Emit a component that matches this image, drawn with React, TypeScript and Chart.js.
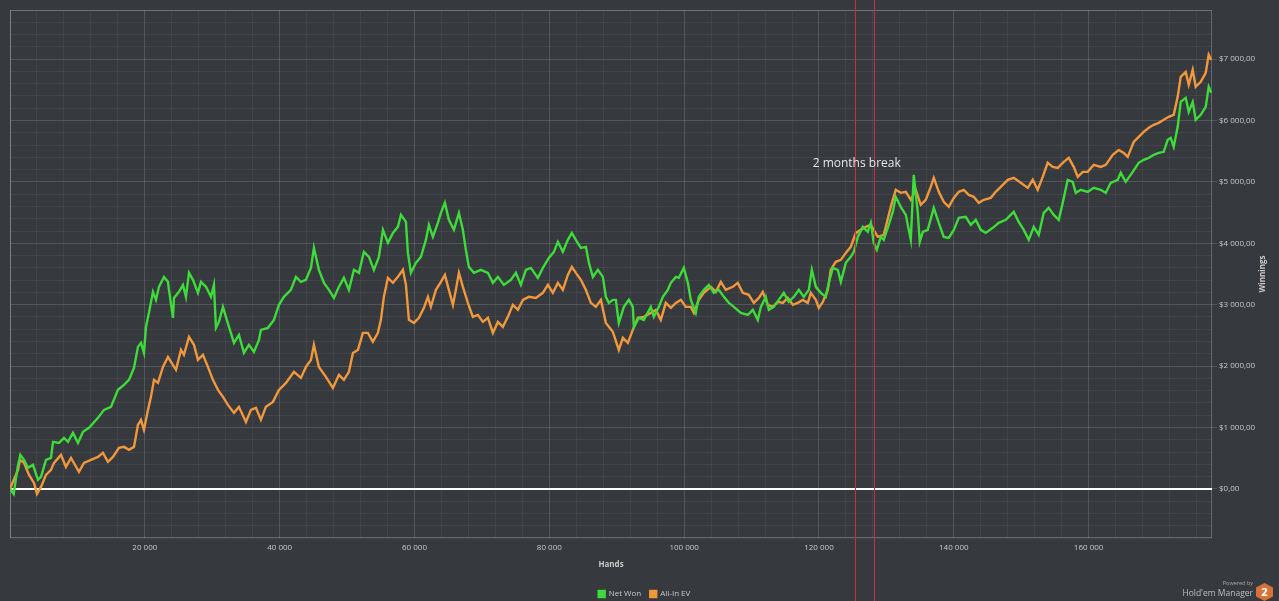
import { useEffect, useRef } from 'react';
import { Chart, registerables } from 'chart.js';

Chart.register(...registerables);

// hands played (x) and cumulative winnings in $ (y)
const netWonHands = [0, 550, 1140, 1530, 2080, 2670, 3410, 4150, 4600, 5340, 6080, 6380, 7270, 8010, 8600, 9340, 10080, 10830, 11720, 13050, 13940, 14980, 16010, 16910, 17650, 18390, 18980, 19430, 19870, 20170, 20610, 21210, 21650, 22100, 22840, 23430, 23580, 24170, 24320, 25060, 25660, 26100, 26550, 27140, 27880, 28330, 29070, 29810, 30250, 30550, 30990, 31590, 32030, 32480, 33220, 33960, 34700, 35440, 36190, 36930, 37220, 38260, 39150, 39890, 40630, 41670, 42410, 43150, 43900, 44640, 45080, 45820, 46570, 47310, 48050, 48790, 49530, 50270, 51020, 51760, 52500, 53240, 53980, 54720, 55320, 56060, 56800, 57540, 57990, 58730, 59020, 59470, 60210, 60950, 61690, 62140, 62730, 63470, 63920, 64510, 65100, 65850, 66590, 67180, 67620, 68070, 68810, 69850, 70890, 71630, 72370, 73260, 74300, 75040, 75780, 76520, 77260, 78300, 79040, 79930, 80680, 81270, 82010, 82750, 83340, 83940, 84680, 85420, 85870, 86460, 87200, 87940, 88390, 88830, 89420, 89870, 90310, 91060, 91800, 92390, 92540, 93280, 94020, 95060, 95500, 96250, 96840, 97580, 98030, 98770, 99210, 99950, 100550, 100990, 101730, 102180, 102920, 103660, 104400, 105150, 105890, 106630, 107370, 108410, 109450, 110190, 110930, 111380, 112110, 112560, 113300, 114040, 114780, 115530, 116270, 117010, 117750, 118490, 118940, 119530, 120270, 121010, 121460, 122050, 122790, 123240, 123980, 124720, 125170, 125760, 126500, 127240, 127690, 128130, 128580, 129170, 129610, 130210, 130950, 131390, 132130, 132880, 133620, 134060, 134660, 134950, 135400, 136140, 137030, 137770, 138510, 139250, 140000, 140740, 141770, 142520, 143260, 144000, 144740, 145780, 146670, 147710, 148890, 149630, 150380, 151120, 151860, 152600, 153340, 154080, 154830, 155570, 156160, 156900, 157640, 158090, 158830, 159870, 160760, 161790, 162540, 163280, 164320, 164760, 165500, 166540, 167430, 168170, 168920, 169660, 170400, 171140, 171730, 172180, 172620, 173210, 173660, 174400, 174850, 175440, 175880, 176630, 177370, 177810, 178200];
const netWon = [0, -81, 358, 554, 472, 342, 391, 147, 195, 472, 505, 766, 749, 831, 766, 912, 749, 929, 994, 1157, 1287, 1336, 1613, 1694, 1776, 1971, 2313, 2378, 2215, 2639, 2867, 3209, 3079, 3291, 3453, 3372, 3242, 2786, 3111, 3209, 3323, 3128, 3519, 3405, 3193, 3372, 3291, 3128, 3323, 2623, 2720, 2965, 2802, 2639, 2378, 2509, 2215, 2346, 2232, 2427, 2590, 2623, 2753, 2997, 3128, 3242, 3453, 3372, 3405, 3600, 3926, 3568, 3356, 3242, 3111, 3291, 3437, 3242, 3568, 3519, 3861, 3779, 3568, 3779, 4219, 4007, 4170, 4268, 4463, 4349, 3844, 3519, 3682, 3779, 4056, 4301, 4105, 4333, 4496, 4659, 4382, 4219, 4496, 4219, 3893, 3616, 3519, 3568, 3519, 3356, 3453, 3323, 3405, 3519, 3323, 3568, 3600, 3437, 3600, 3763, 3861, 4024, 3861, 4056, 4170, 4056, 3926, 3942, 3682, 3453, 3568, 3453, 3128, 3030, 3079, 3079, 2704, 2965, 3079, 2965, 2639, 2786, 2753, 2965, 2802, 2965, 3128, 3242, 3356, 3453, 3437, 3600, 3356, 3079, 2867, 3128, 3242, 3323, 3193, 3242, 3128, 3030, 2965, 2867, 2834, 2916, 2753, 2965, 3128, 2916, 2965, 3079, 3193, 3046, 3128, 3242, 3128, 3242, 3568, 3291, 3193, 3128, 3356, 3600, 3568, 3372, 3682, 3779, 3861, 4105, 4268, 4187, 4333, 4007, 3893, 4105, 4056, 4252, 4512, 4757, 4594, 4463, 4056, 5115, 4496, 4024, 4187, 4219, 4578, 4333, 4105, 4089, 4219, 4415, 4431, 4301, 4382, 4219, 4170, 4252, 4333, 4382, 4512, 4349, 4219, 4056, 4268, 4138, 4496, 4578, 4463, 4382, 4659, 5034, 5001, 4822, 4871, 4838, 4903, 4871, 4822, 4985, 5034, 5148, 5001, 5164, 5311, 5360, 5392, 5441, 5473, 5490, 5685, 5718, 5571, 5897, 6304, 6369, 6141, 6304, 6011, 6092, 6223, 6549, 6451];

const allInEvHands = [0, 1190, 1470, 2080, 2820, 3560, 4000, 4600, 5340, 6080, 6530, 7560, 8300, 9050, 10230, 10970, 12010, 13050, 13790, 14530, 15270, 16160, 16910, 17650, 18390, 18980, 19430, 19870, 20470, 20910, 21360, 21950, 22690, 23430, 23880, 24620, 25360, 25800, 26550, 27290, 27880, 28620, 29360, 30100, 30850, 31590, 32330, 33220, 33960, 35000, 35740, 36480, 37220, 37960, 39000, 39890, 40930, 42120, 43150, 43900, 44640, 45080, 45820, 46860, 47900, 48790, 49530, 50270, 50870, 51610, 52350, 53090, 53830, 54570, 55020, 55460, 56060, 56800, 57540, 58280, 58730, 59170, 59910, 60660, 61400, 61990, 62430, 63180, 63920, 64510, 65100, 65700, 66140, 66590, 67180, 67920, 68660, 69400, 70150, 70890, 71630, 72370, 73110, 73850, 74590, 75340, 76080, 76970, 78000, 79040, 79790, 80530, 81270, 82010, 82750, 83340, 83940, 84680, 85420, 86160, 86900, 87650, 88390, 89420, 90310, 90910, 91650, 92390, 93130, 94020, 95060, 95800, 96540, 97280, 98030, 98770, 99510, 100250, 100990, 101440, 102180, 102920, 103960, 104700, 105440, 106180, 107220, 107960, 108700, 109590, 110340, 111080, 111670, 112410, 113150, 113890, 114640, 115380, 116120, 116860, 117600, 118340, 118790, 119530, 119970, 120570, 121310, 121750, 122490, 123240, 123980, 124720, 125460, 126200, 126940, 127690, 128720, 129610, 130650, 131390, 132130, 132880, 133620, 134360, 135100, 135840, 136580, 137030, 137770, 138510, 139250, 140000, 140740, 141480, 142220, 142960, 143700, 144440, 145480, 146220, 146970, 148000, 148890, 149930, 150970, 151710, 152450, 153190, 153930, 154680, 155420, 156310, 157050, 157790, 158380, 159130, 159870, 160760, 161790, 162540, 163580, 164470, 165210, 165800, 166690, 167430, 168170, 168920, 169660, 170400, 171140, 171880, 172620, 173210, 173660, 174400, 174850, 175440, 175880, 176630, 177370, 177810, 178200];
const allInEv = [0, 309, 472, 424, 228, 98, -81, 33, 228, 309, 424, 554, 358, 505, 277, 424, 472, 521, 586, 440, 521, 668, 684, 635, 684, 1043, 1124, 961, 1287, 1499, 1776, 1727, 1987, 2150, 2069, 1939, 2264, 2183, 2476, 2346, 2101, 2183, 1987, 1776, 1613, 1499, 1368, 1238, 1336, 1091, 1287, 1319, 1124, 1336, 1417, 1613, 1727, 1906, 1808, 1987, 2101, 2346, 1987, 1824, 1645, 1857, 1776, 1906, 2215, 2264, 2541, 2541, 2395, 2541, 2753, 3128, 3437, 3356, 3453, 3568, 3323, 2753, 2704, 2786, 2949, 3128, 2965, 3242, 3372, 3486, 3242, 2997, 3242, 3519, 3291, 3030, 2802, 2834, 2720, 2786, 2541, 2720, 2639, 2802, 2997, 2916, 3079, 3128, 3111, 3193, 3323, 3193, 3356, 3242, 3486, 3616, 3519, 3405, 3242, 3030, 2965, 3079, 2704, 2558, 2264, 2460, 2378, 2590, 2786, 2802, 2867, 2916, 2753, 3030, 2949, 3030, 3079, 2965, 2965, 2867, 3079, 3193, 3291, 3209, 3372, 3242, 3291, 3356, 3193, 3160, 3030, 3111, 3209, 2997, 2965, 3046, 3030, 3111, 2997, 3030, 3079, 3030, 3193, 3079, 2949, 3046, 3242, 3568, 3698, 3730, 3844, 3942, 4170, 4219, 4268, 4301, 4105, 4138, 4594, 4871, 4822, 4838, 4708, 4871, 4626, 4708, 4920, 5066, 4838, 4675, 4594, 4740, 4838, 4871, 4789, 4757, 4659, 4708, 4740, 4838, 4920, 5034, 5066, 4985, 4903, 5034, 4871, 5083, 5311, 5245, 5229, 5327, 5392, 5245, 5083, 5164, 5164, 5278, 5245, 5278, 5441, 5522, 5473, 5408, 5653, 5734, 5816, 5881, 5930, 5962, 6011, 6060, 6092, 6386, 6711, 6793, 6581, 6826, 6549, 6630, 6777, 7070, 6988];

// axis ranges, grid steps and the marked break (in hands)
const handsMax = 178300;
const handsStep = 4000;
const handsLabelStep = 20000;
const winningsMin = -800;
const winningsMax = 7800;
const winningsStep = 200;
const winningsLabelStep = 1000;
const breakStart = 125400;
const breakEnd = 128200;
const breakLabel = '2 months break';
const breakLabelAt = { hands: 125600, winnings: 5300 };

const FONT = "'Open Sans', 'DejaVu Sans', sans-serif";
const BG = '#36393d';
const GRID_MAJOR = 'rgba(255,255,255,0.15)';
const GRID_MINOR = 'rgba(255,255,255,0.055)';
const FRAME = 'rgba(255,255,255,0.24)';
const TEXT = '#c9c9c9';

const groupThousands = (n: number) =>
  String(Math.abs(Math.round(n))).replace(/\B(?=(\d{3})+(?!\d))/g, ' ');

const toPoints = (xs: number[], ys: number[]) =>
  xs.map((x, i) => ({ x, y: ys[i] }));

// evenly spaced grid ticks from lo up to hi
const tickRange = (lo: number, hi: number, step: number) => {
  const out: { value: number }[] = [];
  for (let v = lo; v <= hi; v += step) out.push({ value: v });
  return out;
};

// frame + white zero line under the lines, break markers and y title on top
const overlays = {
  id: 'overlays',
  beforeDatasetsDraw(chart: any) {
    const { ctx, chartArea: a, scales } = chart;
    ctx.save();
    ctx.strokeStyle = FRAME;
    ctx.lineWidth = 1;
    ctx.strokeRect(a.left + 0.5, Math.round(a.top) + 0.5, a.right - a.left - 1, a.bottom - Math.round(a.top) - 1);
    const y0 = Math.round(scales.y.getPixelForValue(0));
    ctx.strokeStyle = '#ffffff';
    ctx.lineWidth = 2;
    ctx.beginPath();
    ctx.moveTo(a.left, y0);
    ctx.lineTo(a.right, y0);
    ctx.stroke();
    ctx.restore();
  },
  afterDatasetsDraw(chart: any) {
    const { ctx, chartArea: a, scales, height } = chart;
    ctx.save();
    ctx.strokeStyle = '#cc2f3c';
    ctx.lineWidth = 1;
    [breakStart, breakEnd].forEach((h) => {
      const x = Math.round(scales.x.getPixelForValue(h)) + 0.5;
      ctx.beginPath();
      ctx.moveTo(x, 0);
      ctx.lineTo(x, height);
      ctx.stroke();
    });
    ctx.fillStyle = '#e6e6e6';
    ctx.font = `12px ${FONT}`;
    ctx.textAlign = 'center';
    ctx.textBaseline = 'middle';
    ctx.fillText(
      breakLabel,
      scales.x.getPixelForValue(breakLabelAt.hands),
      scales.y.getPixelForValue(breakLabelAt.winnings)
    );
    // y axis title reads bottom-to-top
    ctx.translate(1263, (a.top + a.bottom) / 2);
    ctx.rotate(-Math.PI / 2);
    ctx.fillStyle = TEXT;
    ctx.font = `bold 8px ${FONT}`;
    ctx.fillText('Winnings', 0, 0);
    ctx.restore();
  },
};

export default function App() {
  const canvasRef = useRef<HTMLCanvasElement>(null);

  useEffect(() => {
    if (!canvasRef.current) return;
    const chart = new Chart(canvasRef.current, {
      type: 'line',
      data: {
        datasets: [
          {
            label: 'Net Won',
            data: toPoints(netWonHands, netWon),
            borderColor: '#3ddc3a',
            backgroundColor: '#3ddc3a',
            borderWidth: 2.4,
            pointRadius: 0,
            tension: 0,
          },
          {
            label: 'All-In EV',
            data: toPoints(allInEvHands, allInEv),
            borderColor: '#f2983c',
            backgroundColor: '#f2983c',
            borderWidth: 2.4,
            pointRadius: 0,
            tension: 0,
          },
        ],
      },
      options: {
        responsive: true,
        maintainAspectRatio: false,
        animation: false,
        layout: { padding: { left: 10, top: 10, right: 0, bottom: -7 } },
        plugins: {
          legend: {
            position: 'bottom',
            labels: {
              color: TEXT,
              font: { family: FONT, size: 8 },
              boxWidth: 6,
              boxHeight: 6,
              padding: 9,
            },
          },
          tooltip: { enabled: false },
        },
        scales: {
          x: {
            type: 'linear',
            min: 0,
            max: handsMax,
            afterBuildTicks: (s: any) => {
              s.ticks = tickRange(0, handsMax, handsStep);
            },
            afterFit: (s: any) => {
              s.height = 43;
            },
            border: { display: false },
            grid: {
              drawTicks: false,
              color: (c: any) =>
                c.tick && c.tick.value % handsLabelStep === 0 ? GRID_MAJOR : GRID_MINOR,
            },
            ticks: {
              autoSkip: false,
              maxRotation: 0,
              padding: 5,
              color: TEXT,
              font: { family: FONT, size: 8 },
              callback: (v: any) => (v > 0 && v % handsLabelStep === 0 ? groupThousands(v) : ''),
            },
            title: {
              display: true,
              text: 'Hands',
              color: TEXT,
              font: { family: FONT, size: 8, weight: 'bold' },
              padding: { top: 0, bottom: 11 },
            },
          },
          y: {
            position: 'right',
            min: winningsMin,
            max: winningsMax,
            afterBuildTicks: (s: any) => {
              s.ticks = tickRange(winningsMin, winningsMax, winningsStep);
            },
            afterFit: (s: any) => {
              s.width = 67;
            },
            border: { display: false },
            grid: {
              tickLength: 5,
              color: (c: any) =>
                c.tick && c.tick.value % winningsLabelStep === 0 ? GRID_MAJOR : GRID_MINOR,
              tickColor: (c: any) =>
                c.tick && c.tick.value % winningsLabelStep === 0 && c.tick.value >= 0
                  ? GRID_MAJOR
                  : 'transparent',
            },
            ticks: {
              autoSkip: false,
              padding: 2,
              color: TEXT,
              font: { family: FONT, size: 8 },
              callback: (v: any) =>
                v >= 0 && v % winningsLabelStep === 0 ? '$' + groupThousands(v) + ',00' : '',
            },
          },
        },
      },
      plugins: [overlays],
    } as any);
    return () => chart.destroy();
  }, []);

  return (
    <div
      style={{
        position: 'fixed',
        left: 0,
        top: 0,
        width: 1279,
        height: 601,
        background: BG,
        fontFamily: FONT,
      }}
    >
      <canvas ref={canvasRef} />
      <div style={{ position: 'absolute', right: 26, top: 581, textAlign: 'right', color: '#a9a9a9', lineHeight: 1 }}>
        <div style={{ fontSize: 5.5 }}>Powered by</div>
        <div style={{ fontSize: 8.5, marginTop: 2, color: '#bdbdbd' }}>Hold'em Manager</div>
      </div>
      <div
        style={{
          position: 'absolute',
          left: 1256,
          top: 583,
          width: 17,
          height: 18,
          background: '#d8703a',
          clipPath: 'polygon(50% 0, 100% 25%, 100% 75%, 50% 100%, 0 75%, 0 25%)',
          color: '#fff',
          fontWeight: 'bold',
          fontSize: 11,
          lineHeight: '18px',
          textAlign: 'center',
        }}
      >
        2
      </div>
    </div>
  );
}
